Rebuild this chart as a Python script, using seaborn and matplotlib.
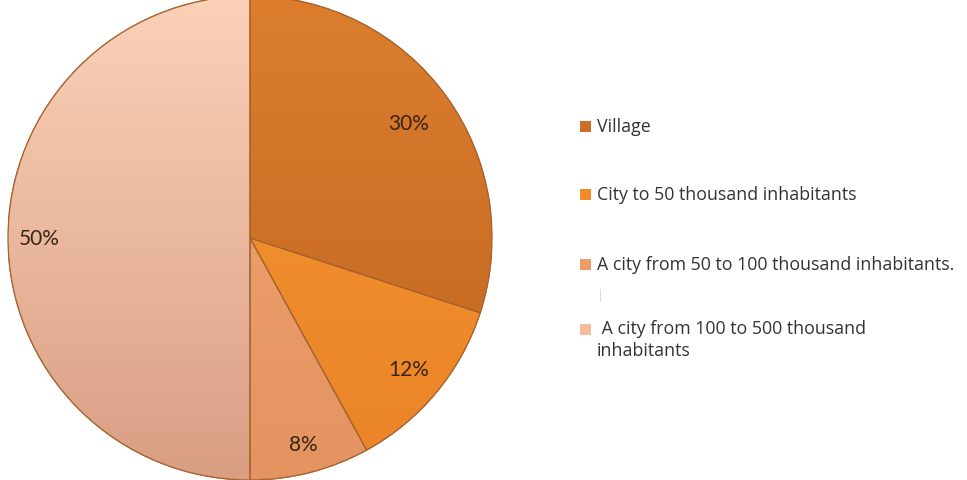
import numpy as np
import matplotlib
matplotlib.use("Agg")
import matplotlib.pyplot as plt
from matplotlib.patches import Wedge, Rectangle
from matplotlib.colors import to_rgb
import seaborn as sns

sns.set_theme(style="white")
plt.rcParams['font.family'] = ['Lato', 'DejaVu Sans']

# Share of respondents by place of residence
categories = [
    "Village",
    "City to 50 thousand inhabitants",
    "A city from 50 to 100 thousand inhabitants.",
    " A city from 100 to 500 thousand\ninhabitants",
]
shares = [30, 12, 8, 50]
pct_labels = ["30%", "12%", "8%", "50%"]

colors = ["#cc6d24", "#f28b2c", "#ef9d68", "#f3bd9e"]
top_tint = ["#dc7e2e", "#f6962f", "#f3a672", "#fad2b8"]
bottom_tint = ["#bf6420", "#ea8428", "#e39460", "#d99e84"]

fig = plt.figure(figsize=(9.67, 4.81), dpi=100)
fig.patch.set_facecolor("white")
ax = fig.add_axes([8 / 967, 0 / 481, 484 / 967, 484 / 481])

wedges, _ = ax.pie(
    shares,
    colors=colors,
    startangle=90,
    counterclock=False,
    radius=1.0,
    wedgeprops=dict(edgecolor="#a8632e", linewidth=0.9),
)
ax.set_aspect("equal")
ax.axis("off")

# Soft vertical shading inside every slice
ny = 200
t = np.linspace(0, 1, ny)[:, None]
for w, c_top, c_bot in zip(wedges, top_tint, bottom_tint):
    a = np.array(to_rgb(c_top))
    b = np.array(to_rgb(c_bot))
    grad = (a[None, :] * (1 - t) + b[None, :] * t)[:, None, :]
    grad = np.repeat(grad, 2, axis=1)
    im = ax.imshow(grad, extent=(-1, 1, -1, 1), origin="upper",
                   aspect="auto", zorder=w.get_zorder() + 0.1,
                   interpolation="bilinear")
    im.set_clip_path(w)
    # slice outline on top of its shading
    ax.add_patch(Wedge(w.center, w.r, w.theta1, w.theta2,
                       facecolor="none", edgecolor="#a8632e",
                       linewidth=0.9, zorder=w.get_zorder() + 0.2))

ax.set_xlim(-1.0, 1.0)
ax.set_ylim(-1.0, 1.0)

# Percentage labels along each slice's mid angle
label_dist = [0.81, 0.85, 0.88, 0.87]
for w, lab, d in zip(wedges, pct_labels, label_dist):
    ang = np.deg2rad((w.theta1 + w.theta2) / 2)
    ax.text(d * np.cos(ang), d * np.sin(ang), lab, ha="center", va="center",
            fontsize=15, color="#3b2414", zorder=10)

# Legend entries
legend_y = [127, 195, 265, 340]
for cat, col, y in zip(categories, colors, legend_y):
    fy = 1 - y / 481
    sq_y = fy if "\n" not in cat else 1 - 330 / 481
    fig.patches.append(Rectangle(
        (580 / 967, sq_y - 5.5 / 481), 11 / 967, 11 / 481,
        transform=fig.transFigure, facecolor=col, edgecolor="none"))
    fig.text(597 / 967, fy, cat, ha="left", va="center", fontsize=12.8,
             color="#333333", linespacing=1.25,
             family=['Open Sans', 'DejaVu Sans'])

# faint stray tick under the third entry
fig.text(600 / 967, 1 - 296 / 481, "|", ha="center", va="center",
         fontsize=9, color="#d8d8d8")

fig.savefig("out.png", dpi=100, facecolor="white")
